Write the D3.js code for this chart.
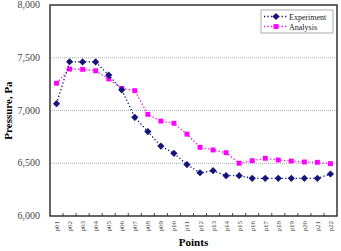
<!DOCTYPE html>
<html>
<head>
<meta charset="UTF-8">
<script src="https://d3js.org/d3.v7.min.js"></script>
<style>
  body { margin: 0; background: #fff; }
  svg { font-family: 'Liberation Serif', 'Times New Roman', serif; }
</style>
</head>
<body>
<svg id="chart" width="341" height="251"></svg>
<script>
// data
const points = ['p01','p02','p03','p04','p05','p06','p07','p08','p09','p10','p11',
                'p12','p13','p14','p15','p16','p17','p18','p19','p20','p21','p22'];
const experiment = [7065, 7462, 7460, 7460, 7336, 7196, 6935, 6800, 6663, 6594, 6487,
                    6410, 6430, 6382, 6382, 6357, 6357, 6357, 6357, 6357, 6357, 6398];
const analysis = [7258, 7393, 7390, 7377, 7299, 7210, 7188, 6964, 6900, 6879, 6776,
                  6651, 6626, 6600, 6500, 6524, 6547, 6531, 6521, 6512, 6509, 6496];
const yTicks = [6000, 6500, 7000, 7500, 8000];

const svg = d3.select('#chart');
const m = { left: 50, right: 337, top: 5, bottom: 216 };

const x = d3.scaleBand().domain(points).range([m.left, m.right]);
const y = d3.scaleLinear().domain([6000, 8000]).range([m.bottom, m.top]);

// grid lines
svg.append('g').selectAll('line')
  .data(yTicks.slice(1, -1))
  .enter().append('line')
  .attr('x1', m.left).attr('x2', m.right)
  .attr('y1', d => y(d)).attr('y2', d => y(d))
  .attr('stroke', '#aaa').attr('stroke-width', 1)
  .attr('stroke-dasharray', '1,1');

// y axis labels
svg.append('g').selectAll('text')
  .data(yTicks)
  .enter().append('text')
  .attr('x', 40).attr('y', d => y(d) + 3)
  .attr('text-anchor', 'end')
  .attr('font-size', 10).attr('fill', '#444')
  .text(d3.format(','));

// x ticks and labels
const xg = svg.append('g');
xg.selectAll('line')
  .data(points.slice(1))
  .enter().append('line')
  .attr('x1', d => x(d)).attr('x2', d => x(d))
  .attr('y1', m.bottom).attr('y2', m.bottom - 3)
  .attr('stroke', '#444');
xg.selectAll('text')
  .data(points)
  .enter().append('text')
  .attr('transform', d => `translate(${x(d) + x.bandwidth() / 2 + 2.5},${m.bottom + 5}) rotate(-90)`)
  .attr('text-anchor', 'end')
  .attr('font-size', 7).attr('fill', '#444')
  .text(d => d);

// frame
svg.append('rect')
  .attr('x', m.left).attr('y', m.top)
  .attr('width', m.right - m.left).attr('height', m.bottom - m.top)
  .attr('fill', 'none').attr('stroke', '#333').attr('stroke-width', 1.5);

// axis titles
svg.append('text')
  .attr('transform', `translate(12,${(m.top + m.bottom) / 2}) rotate(-90)`)
  .attr('text-anchor', 'middle').attr('font-size', 11).attr('font-weight', 'bold')
  .text('Pressure, Pa');
svg.append('text')
  .attr('x', (m.left + m.right) / 2).attr('y', 246)
  .attr('text-anchor', 'middle').attr('font-size', 11).attr('font-weight', 'bold')
  .text('Points');

const cx = d => x(d) + x.bandwidth() / 2;
const line = vals => d3.line().x((d, i) => cx(points[i])).y(d => y(d))(vals);

// diamonds are squares turned by 45 degrees
const series = [
  { name: 'Experiment', vals: experiment, color: '#14147a', rot: 45, size: 26 },
  { name: 'Analysis', vals: analysis, color: '#ff00ff', rot: 0, size: 24 }
];
const mark = d3.symbol().type(d3.symbolSquare);

series.slice().reverse().forEach(s => {
  svg.append('path')
    .attr('d', line(s.vals))
    .attr('fill', 'none').attr('stroke', s.color)
    .attr('stroke-width', 1.3).attr('stroke-dasharray', '1.3,2.2');
  svg.append('g').selectAll('path')
    .data(s.vals)
    .enter().append('path')
    .attr('transform', (d, i) => `translate(${cx(points[i])},${y(d)}) rotate(${s.rot})`)
    .attr('d', mark.size(s.size)())
    .attr('fill', s.color);
});

// legend
const lg = svg.append('g');
lg.append('rect')
  .attr('x', 261).attr('y', 10).attr('width', 72).attr('height', 23)
  .attr('fill', '#fff').attr('stroke', '#999').attr('stroke-width', 0.8);
series.forEach((s, i) => {
  const ly = 16.5 + i * 10;
  lg.append('line')
    .attr('x1', 264).attr('x2', 288).attr('y1', ly).attr('y2', ly)
    .attr('stroke', s.color).attr('stroke-width', 1.3).attr('stroke-dasharray', '1.3,2.2');
  lg.append('path')
    .attr('transform', `translate(276,${ly}) rotate(${s.rot})`)
    .attr('d', mark.size(s.size)())
    .attr('fill', s.color);
  lg.append('text')
    .attr('x', 289).attr('y', ly + 3)
    .attr('font-size', 8).attr('fill', '#222')
    .text(s.name);
});
</script>
</body>
</html>
